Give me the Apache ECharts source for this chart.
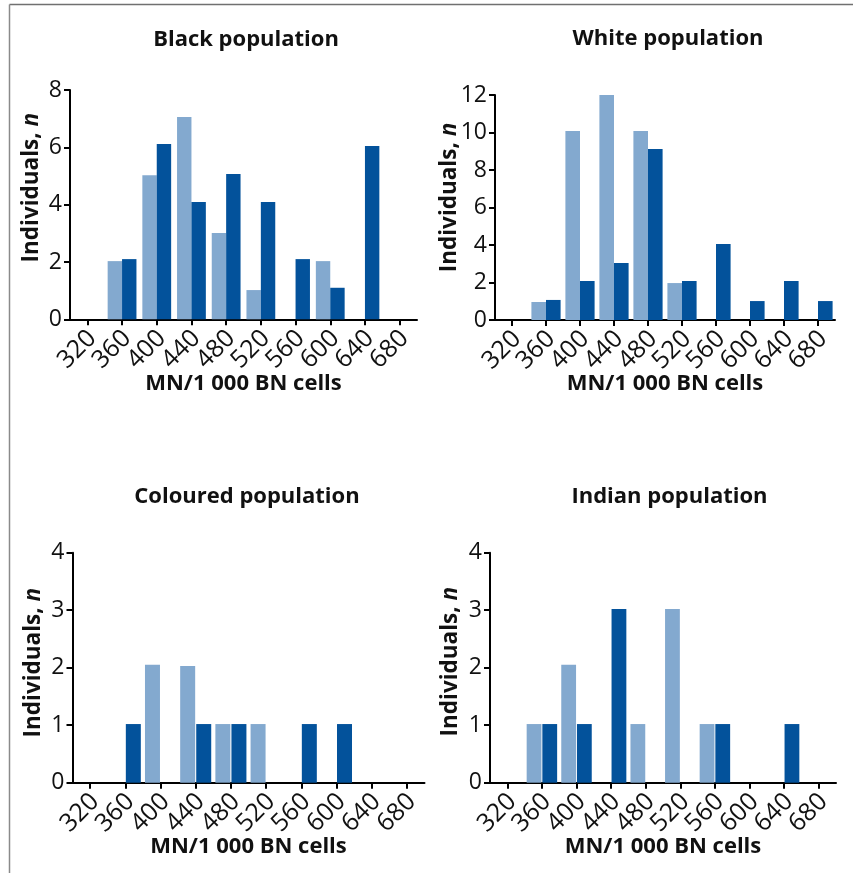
<!DOCTYPE html>
<html><head><meta charset="utf-8">
<script src="https://cdn.jsdelivr.net/npm/echarts@6/dist/echarts.min.js"></script>
<style>html,body{margin:0;padding:0;background:#fff}#c{width:853px;height:873px}</style>
</head><body><div id="c"></div>
<script>
// ---- data ----
const categories = ['320','360','400','440','480','520','560','600','640','680'];
const titles = ['Black population','White population','Coloured population','Indian population'];
const blackLight    = [0, 2.03, 5.03, 7.06, 3.01, 1.02, 0, 2.03, 0, 0];
const blackDark     = [0, 2.1, 6.12, 4.09, 5.07, 4.09, 2.1, 1.1, 6.05, 0];
const whiteLight    = [0, 0.96, 10.08, 12, 10.08, 1.97, 0, 0, 0, 0];
const whiteDark     = [0, 1.07, 2.08, 3.04, 9.12, 2.08, 4.05, 1.01, 2.08, 1.01];
const colouredLight = [0, 0, 2.05, 2.03, 1.02, 1.02, 0, 0, 0, 0];
const colouredDark  = [0, 1.02, 0, 1.02, 1.02, 0, 1.02, 1.02, 0, 0];
const indianLight   = [0, 1.02, 2.05, 0, 1.02, 3.02, 1.02, 0, 0, 0];
const indianDark    = [0, 1.02, 1.02, 3.02, 0, 0, 1.02, 0, 1.02, 0];
const yMax = [8, 12, 4, 4];
const yStep = [2, 2, 1, 1];
const xName = 'MN/1 000 BN cells';

// ---- layout / style ----
const FONT = 'Open Sans';
const LIGHT = '#83a9cf';
const DARK = '#03529b';
const seriesData = [[blackLight, blackDark],[whiteLight, whiteDark],[colouredLight, colouredDark],[indianLight, indianDark]];
const grids = [
  {left: 70,  top: 90,    width: 347, height: 229.3},
  {left: 495, top: 95,    width: 340, height: 225},
  {left: 72.5,top: 552.7, width: 352, height: 230},
  {left: 490, top: 552.7, width: 346, height: 230}
];
const titlePos = [[246, 40], [668, 39], [247, 497], [669.5, 497]];
const yNamePad = [34, 20, 10, 12];
const yNameGap = [27, 33.5, 27.5, 28];
const barW = [14.4, 14.6, 15, 14.8];
const barGapV = ['0%', '0%', '7%', '6%'];

const option = {
  animation: false,
  backgroundColor: '#fff',
  textStyle: {fontFamily: FONT},
  grid: grids.map(g => Object.assign({containLabel: false, outerBoundsMode: 'none'}, g)),
  xAxis: grids.map((g, i) => ({
    type: 'category', gridIndex: i, data: categories,
    axisLine: {show: true, lineStyle: {color: '#000', width: 2}},
    axisTick: {show: true, alignWithLabel: true, length: 6, lineStyle: {color: '#000', width: 2}},
    axisLabel: {rotate: 45, interval: 0, margin: 10, verticalAlign: 'top', lineHeight: 14, hideOverlap: false,
                fontSize: 25, color: '#111', fontFamily: FONT},
    name: xName, nameLocation: 'middle', nameGap: 53, nameMoveOverlap: false,
    nameTextStyle: {fontSize: 22, fontWeight: 'bold', color: '#111', fontFamily: FONT},
    splitLine: {show: false}
  })),
  yAxis: grids.map((g, i) => ({
    type: 'value', gridIndex: i, min: 0, max: yMax[i], interval: yStep[i],
    axisLine: {show: true, lineStyle: {color: '#000', width: 2}},
    axisTick: {show: true, length: 6, lineStyle: {color: '#000', width: 2}},
    axisLabel: {margin: 8, fontSize: 23, color: '#111', fontFamily: FONT},
    splitLine: {show: false},
    name: '{b|Individuals, }{i|n}', nameLocation: 'middle', nameGap: yNameGap[i], nameRotate: 90, nameMoveOverlap: false,
    nameTextStyle: {
      padding: [0, 0, 0, yNamePad[i]],
      rich: {
        b: {fontSize: 22.5, fontWeight: 'bold', color: '#111', fontFamily: FONT},
        i: {fontSize: 22.5, fontWeight: 'bold', fontStyle: 'italic', color: '#111', fontFamily: FONT}
      }
    }
  })),
  series: [],
  graphic: [
    {type: 'line', shape: {x1: 9.5, y1: 4.5, x2: 853, y2: 4.5}, style: {stroke: '#707070', lineWidth: 1.5}, silent: true},
    {type: 'line', shape: {x1: 9.5, y1: 4.5, x2: 9.5, y2: 873}, style: {stroke: '#8a8a8a', lineWidth: 1.5}, silent: true}
  ].concat(titles.map((t, i) => ({
    type: 'text', x: titlePos[i][0], y: titlePos[i][1],
    style: {text: t, align: 'center', verticalAlign: 'middle', fill: '#111',
            font: 'bold 22px "' + FONT + '"'}
  })))
};
seriesData.forEach((pair, i) => {
  option.series.push({type: 'bar', xAxisIndex: i, yAxisIndex: i, data: pair[0], barWidth: barW[i], barGap: barGapV[i], itemStyle: {color: LIGHT}});
  option.series.push({type: 'bar', xAxisIndex: i, yAxisIndex: i, data: pair[1], barWidth: barW[i], barGap: barGapV[i], itemStyle: {color: DARK}});
});
echarts.init(document.getElementById('c'), null, {renderer: 'canvas'}).setOption(option);
</script>
</body></html>
